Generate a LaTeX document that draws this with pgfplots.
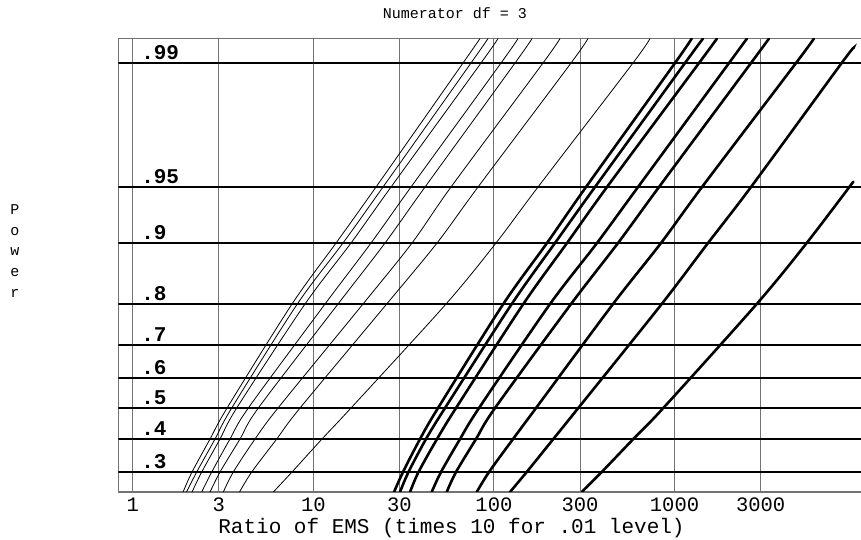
\documentclass[border=0pt]{standalone}
\usepackage{fontspec}
\setmainfont{Liberation Mono}
\usepackage{pgfplots}
\pgfplotsset{compat=1.18}

\begin{document}
\begin{tikzpicture}[x=1pt,y=1pt]
\useasboundingbox (0,0) rectangle (861,540);
\begin{axis}[
  at={(118.3pt,48pt)}, anchor=south west,
  scale only axis, width=744.7pt, height=453.5pt,
  xmode=log, xmin=0.832, xmax=11058, ymin=0, ymax=453.5,
  xtick={1,3,10,30,100,300,1000,3000},
  xticklabels={1,3,10,30,100,300,1000,3000},
  ytick=\empty, major tick length=0pt,
  xmajorgrids, grid style={black!55, line width=1.1pt},
  axis line style={black!55, line width=1.1pt},
  xticklabel style={font=\fontsize{20.5}{25}\selectfont, anchor=base, yshift=-20pt, inner sep=0pt},
  /pgf/number format/assume math mode=true,
  thin/.style={black, line width=0.8pt, smooth, tension=0.5},
  thick/.style={black, line width=2.6pt, line cap=round, smooth, tension=0.5},
]
% power levels
\pgfplotsinvokeforeach{20,53,84,114,147,188,249,305,429}{
  \addplot[black, line width=2pt] coordinates {(0.5,#1) (20000,#1)};
}
% .05 level (thin)
\addplot[thin] coordinates {(1.90,0)(2.13,20)(2.68,53)(3.33,84)(7.62,188)(13.36,249)(22.24,305)(67.44,429)(83.77,453.5)};
\addplot[thin] coordinates {(1.985,0)(2.261,20)(2.856,53)(3.533,84)(8.154,188)(14.60,249)(24.32,305)(74.67,429)(92.75,453.5)};
\addplot[thin] coordinates {(2.13,0)(2.41,20)(3.043,53)(3.766,84)(8.995,188)(16.17,249)(26.93,305)(84.82,429)(105.4,453.5)};
\addplot[thin] coordinates {(2.41,0)(2.738,20)(3.457,53)(4.366,84)(11.61,188)(20.87,249)(34.75,305)(109.5,429)(136.0,453.5)};
\addplot[thin] coordinates {(2.68,0)(3.043,20)(3.927,53)(4.96,84)(13.70,188)(24.95,249)(41.55,305)(130.9,429)(162.6,453.5)};
\addplot[thin] coordinates {(3.174,0)(3.606,20)(4.756,53)(6.376,84)(18.84,188)(35.20,249)(57.87,305)(187.0,429)(232.3,453.5)};
\addplot[thin] coordinates {(3.903,0)(4.559,20)(6.271,53)(8.441,84)(25.49,188)(48.42,249)(81.66,305)(267.3,429)(331.9,453.5)};
\addplot[thin] coordinates {(6.005,0)(7.622,20)(11.17,53)(16.17,84)(54.30,188)(102.7,249)(175.5,305)(589.0,429)(731.5,453.5)};
% .01 level (thick)
\addplot[thick] coordinates {(27.99,0)(31.38,20)(38.98,53)(49.04,84)(112.7,188)(196.8,249)(323.6,305)(1006,429)(1245,453.5)};
\addplot[thick] coordinates {(30.20,0)(33.65,20)(42.07,53)(53.61,84)(125.5,188)(217.9,249)(362.9,305)(1143,429)(1438,453.5)};
\addplot[thick] coordinates {(34.31,0)(38.24,20)(48.42,53)(61.68,84)(145.5,188)(254.0,249)(422.9,305)(1367,429)(1719,453.5)};
\addplot[thick] coordinates {(45.24,0)(50.94,20)(64.92,53)(82.70,84)(204.5,188)(372.3,249)(628.1,305)(2004,429)(2520,453.5)};
\addplot[thick] coordinates {(54.78,0)(61.68,20)(79.60,53)(101.4,84)(267.3,188)(486.7,249)(820.7,305)(2652,429)(3337,453.5)};
\addplot[thick] coordinates {(80.32,0)(93.95,20)(127.6,53)(171.1,84)(456.5,188)(841.9,249)(1420,305)(4708,429)(5920,453.5)};
\addplot[thick] coordinates {(122.8,0)(151.9,20)(213.3,53)(293.3,84)(849.3,188)(1533,249)(2652,305)(8427,429)(9772,443.7)};
\addplot[thick] coordinates {(306.3,0)(395.3,20)(591.3,53)(867.0,84)(2852,188)(5395,249)(9772,310.3)};
% level labels
\begin{scope}[every node/.style={anchor=base west, inner sep=0pt, font=\bfseries\fontsize{21}{25}\selectfont}]
\node at (axis cs:1.112,432.2) {.99};
\node at (axis cs:1.112,308.2) {.95};
\node at (axis cs:1.112,252.2) {.9};
\node at (axis cs:1.112,191.2) {.8};
\node at (axis cs:1.112,150.2) {.7};
\node at (axis cs:1.112,117.2) {.6};
\node at (axis cs:1.112,87.2) {.5};
\node at (axis cs:1.112,56.2) {.4};
\node at (axis cs:1.112,23.2) {.3};
\end{scope}
\end{axis}
\node[anchor=base, inner sep=0pt, font=\fontsize{15}{18}\selectfont] at (455,521.5) {Numerator df = 3};
\node[anchor=base, inner sep=0pt, font=\fontsize{21}{25}\selectfont] at (451.5,6.5) {Ratio of EMS (times 10 for .01 level)};
\node[align=center, inner sep=0pt, font=\fontsize{15}{20.8}\selectfont] at (15,289) {P\\o\\w\\e\\r};
\end{tikzpicture}
\end{document}
